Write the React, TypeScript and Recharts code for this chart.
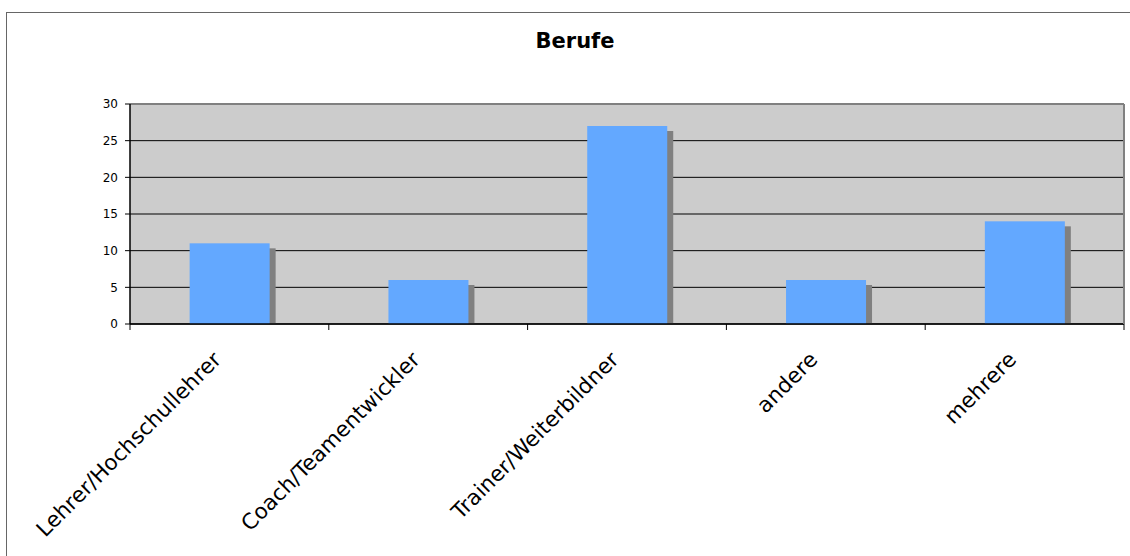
import React from "react";
import {
  BarChart,
  Bar,
  XAxis,
  YAxis,
  CartesianGrid,
  ReferenceLine,
} from "recharts";

const categories = [
  "Lehrer/Hochschullehrer",
  "Coach/Teamentwickler",
  "Trainer/Weiterbildner",
  "andere",
  "mehrere",
];
const counts = [11, 6, 27, 6, 14];
const yTicks = [0, 5, 10, 15, 20, 25, 30];

const data = categories.map((name, i) => ({ name, value: counts[i] }));

const FONT = "'DejaVu Sans', Verdana, sans-serif";

// bar with the grey drop shadow to the lower right
function ShadowBar(props: any) {
  const { x, y, width, height } = props;
  if (!width || height == null) return null;
  return (
    <g>
      <rect
        x={x + 6}
        y={y + 5}
        width={width}
        height={Math.max(0, height - 5)}
        fill="#808080"
      />
      <rect x={x} y={y} width={width} height={height} fill="#63A8FF" />
    </g>
  );
}

// rotated category label + tick marks on the band edges (Excel style)
function CategoryTick({ x, y, payload, width, visibleTicksCount, index }: any) {
  const band = width / visibleTicksCount;
  const ax = x - 7;
  const ay = y + 37;
  const left = x - band / 2;
  const right = x + band / 2;
  return (
    <g>
      <line x1={left} y1={y} x2={left} y2={y + 6} stroke="#000" />
      {index === visibleTicksCount - 1 && (
        <line x1={right} y1={y} x2={right} y2={y + 6} stroke="#000" />
      )}
      <text
        x={ax}
        y={ay}
        textAnchor="end"
        transform={`rotate(-45, ${ax}, ${ay})`}
        fontSize={21.5}
        fontFamily={FONT}
        fill="#000"
      >
        {payload.value}
      </text>
    </g>
  );
}

export default function App() {
  return (
    <div
      style={{
        position: "absolute",
        left: 0,
        top: 0,
        width: 1130,
        height: 556,
        overflow: "hidden",
        background: "#fff",
      }}
    >
      <svg
        width={1130}
        height={556}
        style={{ position: "absolute", left: 0, top: 0 }}
      >
        {/* outer chart frame, runs off the right and bottom */}
        <rect
          x={6.5}
          y={12.5}
          width={1200}
          height={700}
          fill="none"
          stroke="#666"
          strokeWidth={1}
        />
        <text
          x={575}
          y={48}
          textAnchor="middle"
          fontFamily={FONT}
          fontWeight="bold"
          fontSize={21}
          fill="#000"
        >
          Berufe
        </text>
      </svg>
      <div style={{ position: "absolute", left: 0, top: 0 }}>
        <BarChart
          width={1130}
          height={556}
          data={data}
          margin={{ top: 104, right: 5, bottom: 231, left: 70 }}
          barCategoryGap="30%"
        >
          <CartesianGrid
            vertical={false}
            fill="#CCCCCC"
            fillOpacity={1}
            stroke="#000"
            strokeWidth={1}
          />
          <XAxis
            dataKey="name"
            height={1}
            interval={0}
            tickSize={0}
            tickMargin={0}
            tickLine={false}
            axisLine={{ stroke: "#000", strokeWidth: 1.5 }}
            tick={<CategoryTick />}
          />
          <YAxis
            domain={[0, 30]}
            ticks={yTicks}
            width={60}
            tickSize={5}
            tickMargin={7}
            axisLine={{ stroke: "#000", strokeWidth: 1.5 }}
            tickLine={{ stroke: "#000" }}
            tick={{ fontSize: 12, fontFamily: FONT, fill: "#000" }}
          />
          <YAxis
            yAxisId="r"
            orientation="right"
            domain={[0, 30]}
            width={1}
            tick={false}
            tickLine={false}
            axisLine={{ stroke: "#808080", strokeWidth: 2 }}
          />
          <ReferenceLine y={30} stroke="#808080" strokeWidth={2} />
          <Bar
            dataKey="value"
            shape={<ShadowBar />}
            isAnimationActive={false}
          />
        </BarChart>
      </div>
    </div>
  );
}
